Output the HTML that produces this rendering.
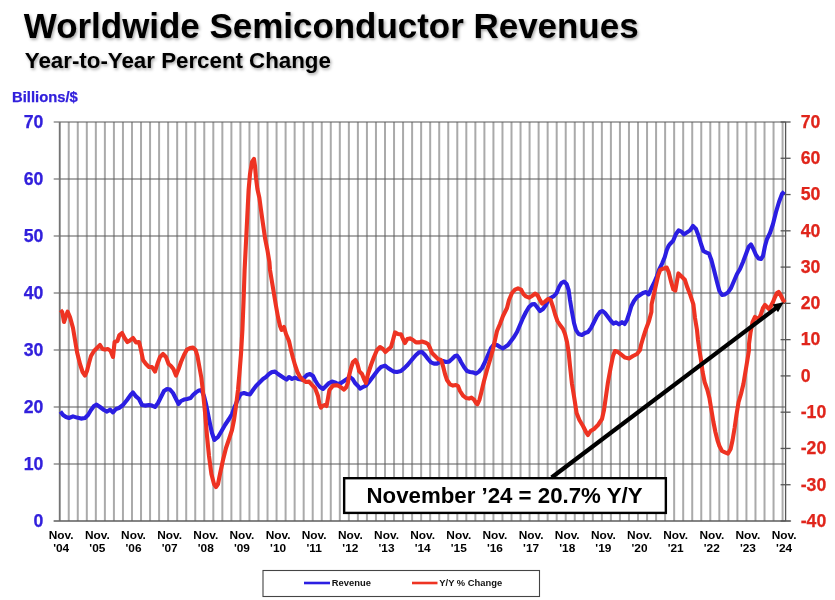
<!DOCTYPE html>
<html><head><meta charset="utf-8"><title>Worldwide Semiconductor Revenues</title>
<style>
html,body{margin:0;padding:0;background:#fff;}
body{width:835px;height:600px;overflow:hidden;position:relative;font-family:"Liberation Sans",sans-serif;}
svg{position:absolute;left:0;top:0;filter:blur(0.4px);}
text{font-family:"Liberation Sans",sans-serif;font-weight:bold;}
</style></head><body>
<svg width="835" height="600" viewBox="0 0 835 600">
<defs>
<filter id="sh" x="-5%" y="-20%" width="110%" height="150%"><feDropShadow dx="1.2" dy="1.6" stdDeviation="1.4" flood-color="#000" flood-opacity="0.38"/></filter>
</defs>
<rect x="0" y="0" width="835" height="600" fill="#ffffff"/>

<g filter="url(#sh)">
<text x="23.8" y="38" font-size="34.95" fill="#000" id="title">Worldwide Semiconductor Revenues</text>
<text x="24.8" y="67.7" font-size="22.3" fill="#000" id="sub">Year-to-Year Percent Change</text>
</g>
<text x="12" y="102" font-size="14.8" fill="#3220dc" stroke="#3220dc" stroke-width="0.25" id="bil">Billions/$</text>
<g stroke="#aaaaaa" stroke-width="2.0">
<line x1="59.70" y1="122.00" x2="59.70" y2="521.00"/>
<line x1="68.74" y1="122.00" x2="68.74" y2="521.00"/>
<line x1="77.77" y1="122.00" x2="77.77" y2="521.00"/>
<line x1="86.81" y1="122.00" x2="86.81" y2="521.00"/>
<line x1="95.84" y1="122.00" x2="95.84" y2="521.00"/>
<line x1="104.88" y1="122.00" x2="104.88" y2="521.00"/>
<line x1="113.92" y1="122.00" x2="113.92" y2="521.00"/>
<line x1="122.95" y1="122.00" x2="122.95" y2="521.00"/>
<line x1="131.99" y1="122.00" x2="131.99" y2="521.00"/>
<line x1="141.02" y1="122.00" x2="141.02" y2="521.00"/>
<line x1="150.06" y1="122.00" x2="150.06" y2="521.00"/>
<line x1="159.10" y1="122.00" x2="159.10" y2="521.00"/>
<line x1="168.13" y1="122.00" x2="168.13" y2="521.00"/>
<line x1="177.17" y1="122.00" x2="177.17" y2="521.00"/>
<line x1="186.21" y1="122.00" x2="186.21" y2="521.00"/>
<line x1="195.24" y1="122.00" x2="195.24" y2="521.00"/>
<line x1="204.28" y1="122.00" x2="204.28" y2="521.00"/>
<line x1="213.31" y1="122.00" x2="213.31" y2="521.00"/>
<line x1="222.35" y1="122.00" x2="222.35" y2="521.00"/>
<line x1="231.39" y1="122.00" x2="231.39" y2="521.00"/>
<line x1="240.42" y1="122.00" x2="240.42" y2="521.00"/>
<line x1="249.46" y1="122.00" x2="249.46" y2="521.00"/>
<line x1="258.49" y1="122.00" x2="258.49" y2="521.00"/>
<line x1="267.53" y1="122.00" x2="267.53" y2="521.00"/>
<line x1="276.57" y1="122.00" x2="276.57" y2="521.00"/>
<line x1="285.60" y1="122.00" x2="285.60" y2="521.00"/>
<line x1="294.64" y1="122.00" x2="294.64" y2="521.00"/>
<line x1="303.67" y1="122.00" x2="303.67" y2="521.00"/>
<line x1="312.71" y1="122.00" x2="312.71" y2="521.00"/>
<line x1="321.75" y1="122.00" x2="321.75" y2="521.00"/>
<line x1="330.78" y1="122.00" x2="330.78" y2="521.00"/>
<line x1="339.82" y1="122.00" x2="339.82" y2="521.00"/>
<line x1="348.86" y1="122.00" x2="348.86" y2="521.00"/>
<line x1="357.89" y1="122.00" x2="357.89" y2="521.00"/>
<line x1="366.93" y1="122.00" x2="366.93" y2="521.00"/>
<line x1="375.96" y1="122.00" x2="375.96" y2="521.00"/>
<line x1="385.00" y1="122.00" x2="385.00" y2="521.00"/>
<line x1="394.04" y1="122.00" x2="394.04" y2="521.00"/>
<line x1="403.07" y1="122.00" x2="403.07" y2="521.00"/>
<line x1="412.11" y1="122.00" x2="412.11" y2="521.00"/>
<line x1="421.14" y1="122.00" x2="421.14" y2="521.00"/>
<line x1="430.18" y1="122.00" x2="430.18" y2="521.00"/>
<line x1="439.22" y1="122.00" x2="439.22" y2="521.00"/>
<line x1="448.25" y1="122.00" x2="448.25" y2="521.00"/>
<line x1="457.29" y1="122.00" x2="457.29" y2="521.00"/>
<line x1="466.32" y1="122.00" x2="466.32" y2="521.00"/>
<line x1="475.36" y1="122.00" x2="475.36" y2="521.00"/>
<line x1="484.40" y1="122.00" x2="484.40" y2="521.00"/>
<line x1="493.43" y1="122.00" x2="493.43" y2="521.00"/>
<line x1="502.47" y1="122.00" x2="502.47" y2="521.00"/>
<line x1="511.50" y1="122.00" x2="511.50" y2="521.00"/>
<line x1="520.54" y1="122.00" x2="520.54" y2="521.00"/>
<line x1="529.58" y1="122.00" x2="529.58" y2="521.00"/>
<line x1="538.61" y1="122.00" x2="538.61" y2="521.00"/>
<line x1="547.65" y1="122.00" x2="547.65" y2="521.00"/>
<line x1="556.69" y1="122.00" x2="556.69" y2="521.00"/>
<line x1="565.72" y1="122.00" x2="565.72" y2="521.00"/>
<line x1="574.76" y1="122.00" x2="574.76" y2="521.00"/>
<line x1="583.79" y1="122.00" x2="583.79" y2="521.00"/>
<line x1="592.83" y1="122.00" x2="592.83" y2="521.00"/>
<line x1="601.87" y1="122.00" x2="601.87" y2="521.00"/>
<line x1="610.90" y1="122.00" x2="610.90" y2="521.00"/>
<line x1="619.94" y1="122.00" x2="619.94" y2="521.00"/>
<line x1="628.97" y1="122.00" x2="628.97" y2="521.00"/>
<line x1="638.01" y1="122.00" x2="638.01" y2="521.00"/>
<line x1="647.05" y1="122.00" x2="647.05" y2="521.00"/>
<line x1="656.08" y1="122.00" x2="656.08" y2="521.00"/>
<line x1="665.12" y1="122.00" x2="665.12" y2="521.00"/>
<line x1="674.15" y1="122.00" x2="674.15" y2="521.00"/>
<line x1="683.19" y1="122.00" x2="683.19" y2="521.00"/>
<line x1="692.23" y1="122.00" x2="692.23" y2="521.00"/>
<line x1="701.26" y1="122.00" x2="701.26" y2="521.00"/>
<line x1="710.30" y1="122.00" x2="710.30" y2="521.00"/>
<line x1="719.34" y1="122.00" x2="719.34" y2="521.00"/>
<line x1="728.37" y1="122.00" x2="728.37" y2="521.00"/>
<line x1="737.41" y1="122.00" x2="737.41" y2="521.00"/>
<line x1="746.44" y1="122.00" x2="746.44" y2="521.00"/>
<line x1="755.48" y1="122.00" x2="755.48" y2="521.00"/>
<line x1="764.52" y1="122.00" x2="764.52" y2="521.00"/>
<line x1="773.55" y1="122.00" x2="773.55" y2="521.00"/>
<line x1="782.59" y1="122.00" x2="782.59" y2="521.00"/>
</g>
<g stroke="#585858" stroke-width="1.15">
<line x1="53.70" y1="122.00" x2="785.60" y2="122.00"/>
<line x1="53.70" y1="179.00" x2="785.60" y2="179.00"/>
<line x1="53.70" y1="236.00" x2="785.60" y2="236.00"/>
<line x1="53.70" y1="293.00" x2="785.60" y2="293.00"/>
<line x1="53.70" y1="350.00" x2="785.60" y2="350.00"/>
<line x1="53.70" y1="407.00" x2="785.60" y2="407.00"/>
<line x1="53.70" y1="464.00" x2="785.60" y2="464.00"/>
<line x1="53.70" y1="521.00" x2="785.60" y2="521.00"/>
</g>
<line x1="59.70" y1="122.00" x2="59.70" y2="521.00" stroke="#747474" stroke-width="1.4"/>
<g stroke="#555" stroke-width="1.3">
<line x1="785.60" y1="122.00" x2="785.60" y2="521.00"/>
<line x1="53.70" y1="521.00" x2="791.10" y2="521.00" stroke="#606060" stroke-width="1.15"/>
<line x1="780.60" y1="122.00" x2="790.60" y2="122.00"/>
<line x1="780.60" y1="158.27" x2="790.60" y2="158.27"/>
<line x1="780.60" y1="194.55" x2="790.60" y2="194.55"/>
<line x1="780.60" y1="230.82" x2="790.60" y2="230.82"/>
<line x1="780.60" y1="267.09" x2="790.60" y2="267.09"/>
<line x1="780.60" y1="303.36" x2="790.60" y2="303.36"/>
<line x1="780.60" y1="339.64" x2="790.60" y2="339.64"/>
<line x1="780.60" y1="375.91" x2="790.60" y2="375.91"/>
<line x1="780.60" y1="412.18" x2="790.60" y2="412.18"/>
<line x1="780.60" y1="448.45" x2="790.60" y2="448.45"/>
<line x1="780.60" y1="484.73" x2="790.60" y2="484.73"/>
<line x1="780.60" y1="521.00" x2="790.60" y2="521.00"/>
</g>
<g font-size="17.7" fill="#3220dc" stroke="#3220dc" stroke-width="0.25" text-anchor="end">
<text x="43.4" y="128.00">70</text>
<text x="43.4" y="185.00">60</text>
<text x="43.4" y="242.00">50</text>
<text x="43.4" y="299.00">40</text>
<text x="43.4" y="356.00">30</text>
<text x="43.4" y="413.00">20</text>
<text x="43.4" y="470.00">10</text>
<text x="43.4" y="527.00">0</text>
</g>
<g font-size="17.7" fill="#e0251b" stroke="#e0251b" stroke-width="0.25" text-anchor="start">
<text x="800.7" y="127.80">70</text>
<text x="800.7" y="164.07">60</text>
<text x="800.7" y="200.35">50</text>
<text x="800.7" y="236.62">40</text>
<text x="800.7" y="272.89">30</text>
<text x="800.7" y="309.16">20</text>
<text x="800.7" y="345.44">10</text>
<text x="800.7" y="381.71">0</text>
<text x="800.7" y="417.98">-10</text>
<text x="800.7" y="454.25">-20</text>
<text x="800.7" y="490.53">-30</text>
<text x="800.7" y="526.80">-40</text>
</g>
<g font-size="10.8" fill="#000" text-anchor="middle">
<g transform="translate(61.21,0) scale(1.1,1)"><text x="0" y="539.4">Nov.</text><text x="0" y="552">'04</text></g>
<g transform="translate(97.35,0) scale(1.1,1)"><text x="0" y="539.4">Nov.</text><text x="0" y="552">'05</text></g>
<g transform="translate(133.49,0) scale(1.1,1)"><text x="0" y="539.4">Nov.</text><text x="0" y="552">'06</text></g>
<g transform="translate(169.64,0) scale(1.1,1)"><text x="0" y="539.4">Nov.</text><text x="0" y="552">'07</text></g>
<g transform="translate(205.78,0) scale(1.1,1)"><text x="0" y="539.4">Nov.</text><text x="0" y="552">'08</text></g>
<g transform="translate(241.93,0) scale(1.1,1)"><text x="0" y="539.4">Nov.</text><text x="0" y="552">'09</text></g>
<g transform="translate(278.07,0) scale(1.1,1)"><text x="0" y="539.4">Nov.</text><text x="0" y="552">'10</text></g>
<g transform="translate(314.22,0) scale(1.1,1)"><text x="0" y="539.4">Nov.</text><text x="0" y="552">'11</text></g>
<g transform="translate(350.36,0) scale(1.1,1)"><text x="0" y="539.4">Nov.</text><text x="0" y="552">'12</text></g>
<g transform="translate(386.51,0) scale(1.1,1)"><text x="0" y="539.4">Nov.</text><text x="0" y="552">'13</text></g>
<g transform="translate(422.65,0) scale(1.1,1)"><text x="0" y="539.4">Nov.</text><text x="0" y="552">'14</text></g>
<g transform="translate(458.79,0) scale(1.1,1)"><text x="0" y="539.4">Nov.</text><text x="0" y="552">'15</text></g>
<g transform="translate(494.94,0) scale(1.1,1)"><text x="0" y="539.4">Nov.</text><text x="0" y="552">'16</text></g>
<g transform="translate(531.08,0) scale(1.1,1)"><text x="0" y="539.4">Nov.</text><text x="0" y="552">'17</text></g>
<g transform="translate(567.23,0) scale(1.1,1)"><text x="0" y="539.4">Nov.</text><text x="0" y="552">'18</text></g>
<g transform="translate(603.37,0) scale(1.1,1)"><text x="0" y="539.4">Nov.</text><text x="0" y="552">'19</text></g>
<g transform="translate(639.52,0) scale(1.1,1)"><text x="0" y="539.4">Nov.</text><text x="0" y="552">'20</text></g>
<g transform="translate(675.66,0) scale(1.1,1)"><text x="0" y="539.4">Nov.</text><text x="0" y="552">'21</text></g>
<g transform="translate(711.81,0) scale(1.1,1)"><text x="0" y="539.4">Nov.</text><text x="0" y="552">'22</text></g>
<g transform="translate(747.95,0) scale(1.1,1)"><text x="0" y="539.4">Nov.</text><text x="0" y="552">'23</text></g>
<g transform="translate(784.09,0) scale(1.1,1)"><text x="0" y="539.4">Nov.</text><text x="0" y="552">'24</text></g>
</g>
<path d="M60.4,411.6 L63.0,415.0 L66.0,417.0 L69.0,418.0 L73.0,416.4 L77.0,417.6 L81.0,418.6 L85.0,418.0 L88.0,415.0 L91.0,410.0 L94.0,406.0 L96.6,404.6 L100.0,407.0 L104.0,410.0 L107.0,411.6 L110.0,409.6 L113.0,412.4 L116.0,409.0 L119.0,408.0 L123.0,405.0 L127.0,400.0 L130.6,395.0 L133.0,392.4 L136.0,396.4 L139.0,399.0 L142.0,405.0 L145.0,405.6 L149.0,405.0 L152.0,405.6 L155.0,407.0 L158.0,403.0 L161.0,397.0 L164.0,391.0 L167.0,389.0 L170.0,389.6 L173.0,393.0 L176.0,399.0 L178.6,404.0 L181.0,401.0 L184.0,399.6 L187.0,399.0 L190.6,398.0 L193.0,395.0 L196.0,392.4 L199.0,390.4 L201.4,390.0 L204.0,396.0 L206.0,404.0 L208.0,414.0 L210.0,424.0 L212.0,433.0 L214.4,440.0 L218.0,437.0 L221.0,432.0 L225.0,425.0 L229.0,419.0 L232.0,414.0 L235.0,406.0 L238.0,399.0 L240.6,394.0 L244.0,393.0 L247.0,394.0 L250.0,394.4 L253.0,390.0 L256.0,386.0 L259.0,383.0 L263.0,379.0 L266.0,377.0 L269.0,374.0 L272.0,372.0 L275.0,371.6 L278.0,374.0 L281.0,376.0 L284.0,378.0 L286.6,379.6 L289.0,377.0 L292.0,379.0 L295.0,377.6 L298.0,379.0 L301.0,379.6 L304.0,378.0 L307.0,375.0 L310.0,374.0 L313.0,376.0 L315.0,380.0 L317.4,384.0 L320.0,387.0 L323.0,389.0 L326.0,386.0 L329.0,383.0 L332.0,381.6 L335.0,382.4 L338.0,384.0 L341.0,383.0 L344.0,381.0 L347.0,379.0 L350.0,377.0 L352.6,379.0 L355.0,383.0 L358.0,386.0 L360.0,388.6 L363.0,387.0 L366.0,385.6 L369.0,382.0 L372.0,378.0 L375.0,374.0 L378.0,370.0 L381.0,367.0 L385.0,365.6 L388.0,368.0 L391.0,370.0 L394.0,371.6 L397.0,372.0 L401.0,371.0 L404.0,368.4 L407.0,365.6 L410.0,362.0 L413.0,358.4 L416.0,355.0 L419.0,352.4 L422.0,352.0 L425.0,355.0 L428.0,359.0 L431.0,362.4 L434.0,363.6 L437.0,363.6 L440.0,362.0 L443.0,361.0 L446.0,362.0 L449.0,361.6 L452.0,359.0 L455.0,356.0 L457.0,355.6 L459.0,358.0 L461.0,362.0 L464.0,367.0 L467.0,371.0 L470.0,372.0 L473.0,372.4 L476.0,373.6 L479.0,371.6 L482.0,368.0 L485.0,362.0 L488.0,355.0 L491.0,348.0 L494.0,344.4 L497.0,345.0 L500.0,347.0 L503.0,348.4 L508.0,345.0 L511.0,341.0 L514.0,337.0 L517.0,332.0 L520.0,325.0 L523.0,318.0 L526.0,312.0 L529.0,307.0 L532.0,304.4 L534.6,304.0 L537.0,307.0 L540.0,311.0 L543.0,309.0 L546.0,305.0 L548.6,299.0 L551.4,297.6 L554.0,296.0 L556.6,293.0 L559.0,287.0 L561.4,283.0 L564.0,281.6 L566.6,284.0 L568.6,290.0 L570.0,300.0 L572.0,312.0 L574.0,323.0 L576.0,330.0 L578.6,334.0 L582.0,335.0 L585.0,333.0 L588.0,332.0 L591.0,328.0 L594.0,322.0 L597.0,316.0 L600.0,312.0 L602.6,311.0 L605.0,313.0 L608.0,317.0 L611.0,321.0 L613.4,323.6 L616.0,322.4 L619.0,324.4 L622.0,322.0 L624.6,324.0 L627.0,320.0 L629.0,314.0 L631.4,306.0 L634.0,301.0 L637.0,297.0 L640.0,295.0 L643.0,293.0 L646.0,292.0 L648.6,294.4 L651.0,289.0 L654.0,283.0 L657.0,276.0 L659.2,269.3 L662.2,263.3 L664.7,257.3 L666.7,250.2 L668.7,245.7 L670.0,244.0 L673.0,241.0 L676.0,234.0 L678.6,230.4 L681.4,231.6 L684.0,234.4 L687.0,232.4 L690.0,230.4 L693.0,226.0 L696.0,229.0 L698.6,236.0 L701.0,244.0 L703.4,251.0 L706.0,252.4 L709.0,253.6 L711.4,260.0 L714.0,270.0 L717.0,282.0 L719.4,291.0 L722.0,295.0 L725.0,294.4 L728.0,292.4 L731.0,288.0 L734.0,281.0 L737.0,274.0 L740.0,269.0 L743.0,262.0 L746.0,254.0 L748.6,247.0 L751.0,244.4 L753.4,249.0 L756.0,255.0 L758.6,258.4 L761.0,259.0 L763.0,256.0 L765.0,246.0 L767.0,239.0 L770.0,233.0 L773.0,224.0 L776.0,212.0 L779.0,202.0 L782.0,194.0 L784.2,191.6" fill="none" stroke="#2b1ee2" stroke-width="4.1" stroke-linejoin="round" stroke-linecap="butt"/>
<path d="M60.6,310.0 L62.2,312.0 L64.0,322.0 L66.0,316.0 L67.6,311.6 L70.0,317.0 L73.0,328.0 L75.0,340.0 L77.0,352.0 L80.0,364.0 L82.6,372.0 L85.0,375.6 L87.0,371.0 L89.0,363.0 L91.0,356.0 L94.0,351.0 L97.0,348.0 L100.0,345.0 L102.6,349.0 L105.0,349.6 L108.0,349.0 L110.6,351.0 L113.0,357.0 L114.6,342.0 L117.4,341.0 L119.4,335.0 L122.0,333.0 L124.6,338.0 L127.4,342.0 L130.0,340.4 L133.0,338.0 L136.0,342.4 L139.0,342.0 L141.0,350.0 L143.0,360.0 L146.0,364.0 L149.0,367.0 L152.0,367.0 L155.0,371.6 L157.4,364.0 L160.0,357.0 L163.0,354.0 L166.0,357.0 L168.6,364.0 L171.0,366.0 L173.4,369.0 L176.0,375.6 L178.6,369.0 L181.0,362.0 L184.0,355.0 L187.0,349.6 L190.0,348.0 L193.0,347.6 L195.6,350.0 L197.4,356.0 L199.4,367.0 L201.4,378.0 L203.0,392.0 L205.0,412.0 L207.0,436.0 L209.0,456.0 L211.4,474.0 L214.0,484.0 L216.0,487.0 L218.0,484.0 L220.0,474.0 L223.0,460.0 L226.0,448.0 L229.4,438.0 L232.0,430.0 L234.0,420.0 L236.0,406.0 L238.0,390.0 L239.4,374.0 L241.0,354.0 L242.4,330.0 L243.6,300.0 L244.6,270.0 L245.6,250.0 L246.6,230.0 L247.6,210.0 L248.6,190.0 L250.0,174.0 L252.0,162.0 L254.0,159.0 L255.0,166.0 L256.0,178.0 L257.4,189.0 L259.4,198.0 L261.0,210.0 L263.0,224.0 L265.0,238.0 L267.4,250.0 L269.4,262.0 L270.0,270.0 L272.0,282.0 L274.0,294.0 L276.0,306.0 L278.0,317.0 L280.0,326.0 L281.6,330.0 L284.0,327.0 L286.0,334.0 L289.0,341.0 L291.0,350.0 L293.0,358.0 L295.0,365.0 L297.4,372.0 L300.0,377.0 L303.0,380.0 L306.0,382.0 L309.0,381.6 L312.0,385.0 L315.0,388.0 L318.0,396.0 L319.4,404.0 L321.0,407.6 L323.0,405.6 L325.0,405.0 L326.6,406.0 L328.0,398.0 L329.4,390.0 L333.0,385.6 L337.0,385.2 L340.0,386.6 L344.0,389.6 L346.4,387.0 L348.0,382.4 L349.0,376.0 L351.0,368.0 L353.0,362.0 L355.4,360.0 L357.4,364.0 L359.0,370.0 L359.0,371.0 L362.0,374.0 L364.0,379.0 L366.0,383.0 L368.0,374.0 L371.0,365.0 L374.0,357.0 L377.0,350.0 L380.0,347.0 L383.0,349.0 L385.4,352.0 L388.0,349.6 L391.0,347.0 L393.0,340.0 L395.0,332.4 L398.0,334.0 L401.0,334.4 L403.0,339.0 L405.0,343.0 L407.4,339.0 L410.0,338.4 L413.0,340.0 L416.0,342.4 L419.0,342.4 L422.0,341.6 L425.0,342.4 L428.0,344.0 L430.0,348.0 L432.0,353.0 L435.0,356.0 L438.0,359.0 L441.0,360.0 L443.0,366.0 L445.0,374.0 L447.0,380.0 L450.0,384.4 L453.0,385.6 L456.0,385.0 L458.0,386.0 L460.0,391.0 L463.0,395.6 L466.0,398.0 L469.0,398.6 L471.4,397.6 L474.0,399.6 L476.0,403.0 L477.4,404.4 L479.4,400.0 L481.4,392.0 L484.0,381.0 L487.0,370.0 L490.0,360.0 L493.0,349.0 L495.0,340.0 L497.0,331.0 L500.0,324.0 L503.0,316.0 L507.0,308.0 L509.0,300.0 L512.0,293.0 L515.0,289.6 L518.0,288.4 L521.0,289.6 L523.4,294.0 L526.0,296.4 L529.0,297.6 L532.0,296.0 L535.0,293.6 L537.4,295.0 L539.4,299.0 L542.0,303.6 L545.0,301.6 L548.0,299.0 L550.6,300.0 L553.0,307.0 L555.0,314.0 L557.4,321.0 L560.0,325.0 L563.0,329.0 L565.0,334.0 L567.0,342.0 L568.6,352.0 L570.0,366.0 L572.0,384.0 L574.6,400.0 L576.6,413.0 L579.4,420.0 L583.0,426.0 L586.0,432.0 L588.0,435.0 L590.6,431.0 L594.0,429.0 L598.0,425.0 L602.0,419.0 L604.0,410.0 L606.0,396.0 L608.0,382.0 L610.6,368.0 L613.0,356.0 L615.0,351.0 L618.0,352.0 L621.0,354.4 L625.0,357.6 L629.0,358.4 L633.0,356.0 L637.0,354.0 L640.0,350.0 L641.0,345.0 L643.4,337.0 L646.0,329.0 L649.0,321.0 L651.4,312.0 L651.6,304.4 L655.2,288.3 L658.2,275.2 L660.2,269.8 L663.2,268.6 L666.7,267.5 L668.7,272.2 L671.2,282.2 L673.3,289.3 L675.3,290.6 L676.8,282.2 L678.4,273.4 L681.3,276.2 L684.8,279.7 L687.3,287.3 L690.4,295.3 L693.4,304.4 L695.0,318.0 L697.0,330.0 L698.0,340.0 L699.4,350.0 L701.0,360.0 L702.6,372.0 L704.6,382.0 L707.4,390.0 L709.4,398.0 L711.4,410.0 L713.4,422.0 L715.4,432.0 L717.4,440.0 L719.4,446.0 L722.0,451.0 L725.0,452.4 L728.0,453.6 L730.6,449.0 L732.6,440.0 L734.6,428.0 L736.6,414.0 L738.6,402.0 L741.0,394.0 L743.4,384.0 L745.4,372.0 L747.4,360.0 L749.0,350.0 L749.0,344.0 L750.6,332.0 L752.6,322.0 L755.0,317.0 L757.0,318.0 L759.0,319.0 L761.0,314.0 L763.0,308.0 L765.0,305.0 L767.0,307.0 L769.0,309.0 L771.0,306.0 L773.0,302.0 L775.0,297.0 L777.0,293.0 L778.6,292.0 L780.6,295.0 L783.0,300.0 L785.0,302.4" fill="none" stroke="#ee3322" stroke-width="4.1" stroke-linejoin="round" stroke-linecap="butt"/>
<rect x="344.15" y="478.2" width="321.7" height="34.7" fill="#fff" stroke="#000" stroke-width="2.4"/>
<text x="504.5" y="502.8" font-size="22.25" fill="#000" text-anchor="middle" id="ann">November ’24 = 20.7% Y/Y</text>
<line x1="551.6" y1="477.5" x2="778" y2="306.6" stroke="#000" stroke-width="4.2"/>
<polygon points="783.8,302.3 772.6,304.6 778,312.2" fill="#000"/>
<rect x="263" y="570.5" width="276.5" height="26" fill="#fff" stroke="#444" stroke-width="1.1"/>
<line x1="304" y1="583" x2="330" y2="583" stroke="#2b1ee2" stroke-width="2.6"/>
<text x="331.8" y="586" font-size="9.4" fill="#111">Revenue</text>
<line x1="412" y1="583" x2="437.5" y2="583" stroke="#ee3322" stroke-width="2.6"/>
<text x="439.3" y="586" font-size="9.4" fill="#111">Y/Y % Change</text>
</svg></body></html>
